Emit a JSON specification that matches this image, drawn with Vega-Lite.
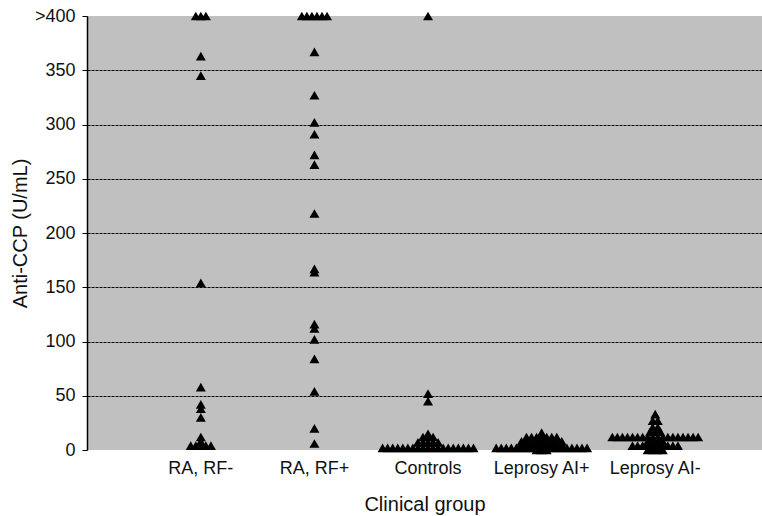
{
  "$schema": "https://vega.github.io/schema/vega-lite/v6.json",
  "width": 675,
  "height": 434,
  "autosize": {"type": "none"},
  "padding": {"left": 87, "top": 16, "right": 0, "bottom": 66},
  "background": "#ffffff",
  "config": {
    "font": "Liberation Sans",
    "view": {"fill": "#c0c0c0", "stroke": null}
  },
  "layer": [
    {
      "data": {
        "values": [
          {"group": "RA, RF-", "value": 400}, {"group": "RA, RF-", "value": 400}, {"group": "RA, RF-", "value": 400},
          {"group": "RA, RF-", "value": 363}, {"group": "RA, RF-", "value": 345}, {"group": "RA, RF-", "value": 154},
          {"group": "RA, RF-", "value": 58}, {"group": "RA, RF-", "value": 42}, {"group": "RA, RF-", "value": 38},
          {"group": "RA, RF-", "value": 30}, {"group": "RA, RF-", "value": 12}, {"group": "RA, RF-", "value": 8},
          {"group": "RA, RF-", "value": 4}, {"group": "RA, RF-", "value": 4}, {"group": "RA, RF-", "value": 4},
          {"group": "RA, RF-", "value": 4}, {"group": "RA, RF-", "value": 4},

          {"group": "RA, RF+", "value": 400}, {"group": "RA, RF+", "value": 400}, {"group": "RA, RF+", "value": 400},
          {"group": "RA, RF+", "value": 400}, {"group": "RA, RF+", "value": 400}, {"group": "RA, RF+", "value": 400},
          {"group": "RA, RF+", "value": 367}, {"group": "RA, RF+", "value": 327}, {"group": "RA, RF+", "value": 302},
          {"group": "RA, RF+", "value": 291}, {"group": "RA, RF+", "value": 272}, {"group": "RA, RF+", "value": 263},
          {"group": "RA, RF+", "value": 218}, {"group": "RA, RF+", "value": 167}, {"group": "RA, RF+", "value": 164},
          {"group": "RA, RF+", "value": 116}, {"group": "RA, RF+", "value": 112}, {"group": "RA, RF+", "value": 102},
          {"group": "RA, RF+", "value": 84}, {"group": "RA, RF+", "value": 54}, {"group": "RA, RF+", "value": 20},
          {"group": "RA, RF+", "value": 6},

          {"group": "Controls", "value": 400}, {"group": "Controls", "value": 52}, {"group": "Controls", "value": 45},
          {"group": "Controls", "value": 15},
          {"group": "Controls", "value": 12}, {"group": "Controls", "value": 12}, {"group": "Controls", "value": 12},
          {"group": "Controls", "value": 7}, {"group": "Controls", "value": 7}, {"group": "Controls", "value": 7},
          {"group": "Controls", "value": 7}, {"group": "Controls", "value": 7},
          {"group": "Controls", "value": 2}, {"group": "Controls", "value": 2}, {"group": "Controls", "value": 2},
          {"group": "Controls", "value": 2}, {"group": "Controls", "value": 2}, {"group": "Controls", "value": 2},
          {"group": "Controls", "value": 2}, {"group": "Controls", "value": 2}, {"group": "Controls", "value": 2},
          {"group": "Controls", "value": 2}, {"group": "Controls", "value": 2}, {"group": "Controls", "value": 2},
          {"group": "Controls", "value": 2}, {"group": "Controls", "value": 2}, {"group": "Controls", "value": 2},
          {"group": "Controls", "value": 2}, {"group": "Controls", "value": 2}, {"group": "Controls", "value": 2},
          {"group": "Controls", "value": 2},

          {"group": "Leprosy AI+", "value": 16},
          {"group": "Leprosy AI+", "value": 12}, {"group": "Leprosy AI+", "value": 12}, {"group": "Leprosy AI+", "value": 12},
          {"group": "Leprosy AI+", "value": 12}, {"group": "Leprosy AI+", "value": 12}, {"group": "Leprosy AI+", "value": 12},
          {"group": "Leprosy AI+", "value": 12},
          {"group": "Leprosy AI+", "value": 8}, {"group": "Leprosy AI+", "value": 8}, {"group": "Leprosy AI+", "value": 8},
          {"group": "Leprosy AI+", "value": 8}, {"group": "Leprosy AI+", "value": 8}, {"group": "Leprosy AI+", "value": 8},
          {"group": "Leprosy AI+", "value": 8}, {"group": "Leprosy AI+", "value": 8}, {"group": "Leprosy AI+", "value": 8},
          {"group": "Leprosy AI+", "value": 5}, {"group": "Leprosy AI+", "value": 5}, {"group": "Leprosy AI+", "value": 5},
          {"group": "Leprosy AI+", "value": 5}, {"group": "Leprosy AI+", "value": 5}, {"group": "Leprosy AI+", "value": 5},
          {"group": "Leprosy AI+", "value": 5}, {"group": "Leprosy AI+", "value": 5}, {"group": "Leprosy AI+", "value": 5},
          {"group": "Leprosy AI+", "value": 2}, {"group": "Leprosy AI+", "value": 2}, {"group": "Leprosy AI+", "value": 2},
          {"group": "Leprosy AI+", "value": 2}, {"group": "Leprosy AI+", "value": 2}, {"group": "Leprosy AI+", "value": 2},
          {"group": "Leprosy AI+", "value": 2}, {"group": "Leprosy AI+", "value": 2}, {"group": "Leprosy AI+", "value": 2},
          {"group": "Leprosy AI+", "value": 2}, {"group": "Leprosy AI+", "value": 2}, {"group": "Leprosy AI+", "value": 2},
          {"group": "Leprosy AI+", "value": 2}, {"group": "Leprosy AI+", "value": 2}, {"group": "Leprosy AI+", "value": 2},
          {"group": "Leprosy AI+", "value": 2}, {"group": "Leprosy AI+", "value": 2}, {"group": "Leprosy AI+", "value": 2},
          {"group": "Leprosy AI+", "value": 2},
          {"group": "Leprosy AI+", "value": 0}, {"group": "Leprosy AI+", "value": 0}, {"group": "Leprosy AI+", "value": 0},

          {"group": "Leprosy AI-", "value": 33},
          {"group": "Leprosy AI-", "value": 27}, {"group": "Leprosy AI-", "value": 27},
          {"group": "Leprosy AI-", "value": 21}, {"group": "Leprosy AI-", "value": 21},
          {"group": "Leprosy AI-", "value": 17}, {"group": "Leprosy AI-", "value": 17}, {"group": "Leprosy AI-", "value": 17},
          {"group": "Leprosy AI-", "value": 12}, {"group": "Leprosy AI-", "value": 12}, {"group": "Leprosy AI-", "value": 12},
          {"group": "Leprosy AI-", "value": 12}, {"group": "Leprosy AI-", "value": 12}, {"group": "Leprosy AI-", "value": 12},
          {"group": "Leprosy AI-", "value": 12}, {"group": "Leprosy AI-", "value": 12}, {"group": "Leprosy AI-", "value": 12},
          {"group": "Leprosy AI-", "value": 12}, {"group": "Leprosy AI-", "value": 12}, {"group": "Leprosy AI-", "value": 12},
          {"group": "Leprosy AI-", "value": 12}, {"group": "Leprosy AI-", "value": 12}, {"group": "Leprosy AI-", "value": 12},
          {"group": "Leprosy AI-", "value": 12}, {"group": "Leprosy AI-", "value": 12}, {"group": "Leprosy AI-", "value": 12},
          {"group": "Leprosy AI-", "value": 8}, {"group": "Leprosy AI-", "value": 8}, {"group": "Leprosy AI-", "value": 8},
          {"group": "Leprosy AI-", "value": 8},
          {"group": "Leprosy AI-", "value": 4}, {"group": "Leprosy AI-", "value": 4}, {"group": "Leprosy AI-", "value": 4},
          {"group": "Leprosy AI-", "value": 4}, {"group": "Leprosy AI-", "value": 4}, {"group": "Leprosy AI-", "value": 4},
          {"group": "Leprosy AI-", "value": 4}, {"group": "Leprosy AI-", "value": 4}, {"group": "Leprosy AI-", "value": 4},
          {"group": "Leprosy AI-", "value": 4},
          {"group": "Leprosy AI-", "value": 0}, {"group": "Leprosy AI-", "value": 0}, {"group": "Leprosy AI-", "value": 0},
          {"group": "Leprosy AI-", "value": 0}
        ]
      },
      "transform": [
        {"window": [{"op": "count", "as": "one"}], "frame": [0, 0]},
        {"stack": "one", "groupby": ["group", "value"], "offset": "center", "as": ["s0", "s1"]}
      ],
      "mark": {"type": "point", "shape": "triangle-up", "filled": true, "color": "#000000", "opacity": 1, "size": 100, "strokeWidth": 0},
      "encoding": {
        "x": {
          "field": "group",
          "type": "nominal",
          "sort": ["RA, RF-", "RA, RF+", "Controls", "Leprosy AI+", "Leprosy AI-"],
          "scale": {"type": "band", "paddingInner": 0, "paddingOuter": 0.471, "align": 0.533, "round": false},
          "axis": {
            "title": "Clinical group",
            "domain": false,
            "ticks": false,
            "labelAngle": 0,
            "labelFontSize": 18,
            "labelColor": "#111111",
            "labelPadding": 9,
            "titleFontSize": 20,
            "titleFontWeight": "normal",
            "titleColor": "#111111",
            "titlePadding": 17
          }
        },
        "xOffset": {
          "field": "s0",
          "type": "quantitative",
          "scale": {"domain": [-2.25, 20.25], "nice": false, "zero": false}
        },
        "y": {
          "field": "value",
          "type": "quantitative",
          "scale": {"domain": [0, 400], "nice": false},
          "axis": {
            "title": "Anti-CCP (U/mL)",
            "values": [0, 50, 100, 150, 200, 250, 300, 350, 400],
            "labelExpr": "datum.value == 400 ? '>400' : datum.label",
            "labelFontSize": 18,
            "labelColor": "#111111",
            "labelPadding": 7,
            "tickSize": 5,
            "tickColor": "#000000",
            "domainColor": "#000000",
            "domainWidth": 1.5,
            "grid": true,
            "gridColor": "#000000",
            "gridDash": [3, 1],
            "gridWidth": 1,
            "gridOpacity": {"condition": {"test": "datum.value === 0 || datum.value === 400", "value": 0}, "value": 1},
            "titleFontSize": 20,
            "titleFontWeight": "normal",
            "titleColor": "#111111",
            "titlePadding": 4
          }
        }
      }
    },
    {
      "mark": {"type": "rule", "color": "#000000", "strokeWidth": 1.5},
      "encoding": {
        "y": {"datum": 17, "type": "quantitative"}
      }
    }
  ]
}
